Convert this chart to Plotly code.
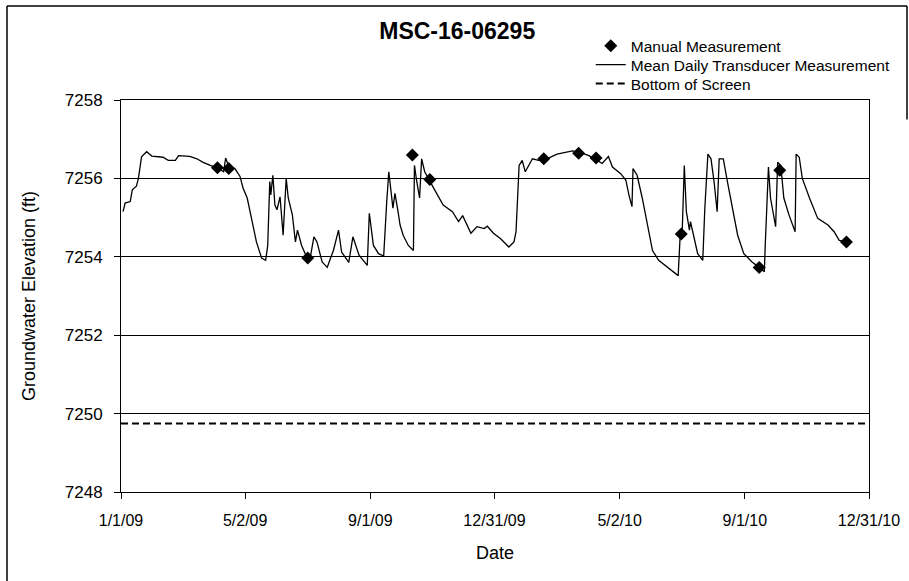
import plotly.graph_objects as go

line_dates = [
    "2009-01-03", "2009-01-05", "2009-01-10", "2009-01-12", "2009-01-16", "2009-01-18",
    "2009-01-21", "2009-01-26", "2009-01-31", "2009-02-11", "2009-02-16", "2009-02-23",
    "2009-02-26", "2009-03-09", "2009-03-16", "2009-03-22", "2009-03-29", "2009-04-04",
    "2009-04-11", "2009-04-13", "2009-04-16", "2009-04-22", "2009-04-27", "2009-04-30",
    "2009-05-04", "2009-05-09", "2009-05-13", "2009-05-18", "2009-05-22", "2009-05-24",
    "2009-05-26", "2009-05-27", "2009-05-29", "2009-05-31", "2009-06-02", "2009-06-05",
    "2009-06-08", "2009-06-11", "2009-06-13", "2009-06-17", "2009-06-20", "2009-06-22",
    "2009-06-26", "2009-07-01", "2009-07-04", "2009-07-08", "2009-07-11", "2009-07-16",
    "2009-07-21", "2009-07-24", "2009-07-27", "2009-08-01", "2009-08-04", "2009-08-11",
    "2009-08-15", "2009-08-21", "2009-08-29", "2009-08-31", "2009-09-04", "2009-09-09",
    "2009-09-14", "2009-09-17", "2009-09-19", "2009-09-23", "2009-09-25", "2009-09-28",
    "2009-09-30", "2009-10-03", "2009-10-08", "2009-10-13", "2009-10-14", "2009-10-16",
    "2009-10-19", "2009-10-21", "2009-10-24", "2009-11-02", "2009-11-11", "2009-11-20",
    "2009-11-26", "2009-11-30", "2009-12-08", "2009-12-14", "2009-12-21", "2009-12-24",
    "2009-12-30", "2010-01-06", "2010-01-14", "2010-01-19", "2010-01-21", "2010-01-24",
    "2010-01-27", "2010-01-30", "2010-02-06", "2010-02-12", "2010-02-20", "2010-03-02",
    "2010-03-09", "2010-03-17", "2010-03-25", "2010-04-02", "2010-04-10", "2010-04-15",
    "2010-04-21", "2010-04-25", "2010-05-03", "2010-05-08", "2010-05-11", "2010-05-14",
    "2010-05-15", "2010-05-19", "2010-05-24", "2010-05-29", "2010-06-03", "2010-06-09",
    "2010-06-17", "2010-06-28", "2010-06-30", "2010-07-02", "2010-07-04", "2010-07-06",
    "2010-07-09", "2010-07-10", "2010-07-13", "2010-07-17", "2010-07-22", "2010-07-24",
    "2010-07-27", "2010-07-30", "2010-08-02", "2010-08-05", "2010-08-07", "2010-08-11",
    "2010-08-15", "2010-08-20", "2010-08-25", "2010-08-31", "2010-09-08", "2010-09-15",
    "2010-09-20", "2010-09-21", "2010-09-24", "2010-09-26", "2010-10-01", "2010-10-03",
    "2010-10-06", "2010-10-09", "2010-10-14", "2010-10-20", "2010-10-21", "2010-10-24",
    "2010-10-27", "2010-11-03", "2010-11-11", "2010-11-21", "2010-11-27", "2010-12-02",
    "2010-12-09",
]
line_values = [
    7255.15, 7255.37, 7255.41, 7255.71, 7255.80, 7256.00,
    7256.55, 7256.68, 7256.57, 7256.54, 7256.46, 7256.46,
    7256.58, 7256.56, 7256.50, 7256.41, 7256.33, 7256.28,
    7256.17, 7256.52, 7256.30, 7256.25, 7256.05, 7255.75,
    7255.50, 7254.90, 7254.38, 7253.97, 7253.91, 7254.29,
    7255.92, 7255.58, 7256.08, 7255.32, 7255.20, 7255.53,
    7254.55, 7256.00, 7255.50, 7255.07, 7254.38, 7254.68,
    7254.29, 7253.99, 7253.91, 7254.51, 7254.38, 7253.87,
    7253.73, 7253.95, 7254.16, 7254.68, 7254.12, 7253.86,
    7254.51, 7254.04, 7253.78, 7255.11, 7254.29, 7254.08,
    7254.02, 7255.41, 7256.17, 7255.24, 7255.62, 7255.15,
    7254.81, 7254.55, 7254.29, 7254.16, 7256.33, 7255.96,
    7255.50, 7256.50, 7256.17, 7255.74, 7255.32, 7255.15,
    7254.90, 7255.05, 7254.60, 7254.77, 7254.72, 7254.78,
    7254.60, 7254.46, 7254.25, 7254.38, 7254.64, 7256.33,
    7256.46, 7256.17, 7256.50, 7256.46, 7256.50, 7256.62,
    7256.66, 7256.70, 7256.66, 7256.58, 7256.46, 7256.38,
    7256.56, 7256.29, 7256.12, 7255.96, 7255.58, 7255.28,
    7256.25, 7256.08, 7255.50, 7254.81, 7254.16, 7253.91,
    7253.75, 7253.52, 7254.55, 7254.68, 7256.33, 7255.15,
    7254.68, 7254.90, 7254.55, 7254.08, 7253.91, 7255.24,
    7256.62, 7256.50, 7255.92, 7255.15, 7256.50, 7256.50,
    7255.92, 7255.24, 7254.55, 7254.08, 7253.87, 7253.73,
    7253.62, 7254.38, 7256.29, 7255.50, 7254.77, 7256.41,
    7256.33, 7255.50, 7255.07, 7254.64, 7256.62, 7256.54,
    7256.00, 7255.50, 7254.98, 7254.81, 7254.64, 7254.42,
    7254.38,
]

# Manual measurements
manual_dates = [
    "2009-04-05", "2009-04-16", "2009-07-02", "2009-10-12", "2009-10-29",
    "2010-02-17", "2010-03-23", "2010-04-09", "2010-07-01", "2010-09-15",
    "2010-10-05", "2010-12-09",
]
manual_values = [
    7256.27, 7256.25, 7253.97, 7256.60, 7255.97,
    7256.50, 7256.64, 7256.52, 7254.58, 7253.73,
    7256.21, 7254.38,
]

# Bottom of screen
screen_dates = ["2009-01-01", "2010-12-31"]
screen_values = [7249.75, 7249.75]

# Axis ticks
x_tickvals = ["2009-01-01", "2009-05-02", "2009-09-01", "2009-12-31",
              "2010-05-02", "2010-09-01", "2010-12-31"]
x_ticktext = ["1/1/09", "5/2/09", "9/1/09", "12/31/09", "5/2/10", "9/1/10", "12/31/10"]
y_tickvals = [7248, 7250, 7252, 7254, 7256, 7258]

FONT = "Liberation Sans, Arial, sans-serif"

fig = go.Figure()
fig.add_trace(go.Scatter(
    x=manual_dates, y=manual_values, mode="markers", name="Manual Measurement",
    marker=dict(symbol="diamond", size=10, color="black"), legend="legend",
))
fig.add_trace(go.Scatter(
    x=line_dates, y=line_values, mode="lines", name="Mean Daily Transducer Measurement",
    line=dict(color="black", width=1.3), legend="legend2",
))
fig.add_trace(go.Scatter(
    x=screen_dates, y=screen_values, mode="lines", name="Bottom of Screen",
    line=dict(color="black", width=2, dash="7px,4px"), legend="legend3",
))

leg_common = dict(x=0.628, xanchor="left", yanchor="top",
                  bgcolor="rgba(0,0,0,0)", borderwidth=0,
                  font=dict(size=15.5, family=FONT))

fig.update_layout(
    width=909, height=581,
    margin=dict(l=121, r=40, t=100, b=88.5, autoexpand=False),
    paper_bgcolor="white", plot_bgcolor="white",
    font=dict(family=FONT, color="black", size=16),
    title=dict(text="<b>MSC-16-06295</b>", x=0.503, xanchor="center",
               y=1 - 31 / 581, yanchor="middle", font=dict(size=23, family=FONT)),
    showlegend=True,
    legend=dict(y=1.1809, **leg_common),
    legend2=dict(y=1.1325, **leg_common),
    legend3=dict(y=1.0841, **leg_common),
    xaxis=dict(
        type="date", range=["2009-01-01", "2010-12-31"],
        tickvals=x_tickvals, ticktext=x_ticktext,
        showgrid=False, zeroline=False,
        showline=True, linecolor="black", linewidth=1, mirror=True,
        ticks="outside", ticklen=6, tickcolor="black", tickwidth=1,
        tickfont=dict(size=16), ticklabelstandoff=8,
        title=dict(text="Date", font=dict(size=18), standoff=18),
        automargin=False,
    ),
    yaxis=dict(
        range=[7248, 7258], tickvals=y_tickvals,
        showgrid=True, gridcolor="black", gridwidth=1, zeroline=False,
        showline=True, linecolor="black", linewidth=1, mirror=True,
        ticks="outside", ticklen=6, tickcolor="black", tickwidth=1,
        tickfont=dict(size=17), ticklabelstandoff=8,
        title=dict(text="Groundwater Elevation (ft)", font=dict(size=18), standoff=24),
        automargin=False,
    ),
    shapes=[
        dict(type="line", xref="paper", yref="paper",
             x0=-0.1524, x1=-0.1524, y0=1.2395, y1=-0.26,
             line=dict(color="black", width=1.5)),
        dict(type="line", xref="paper", yref="paper",
             x0=-0.1524, x1=1.0508, y0=1.2395, y1=1.2395,
             line=dict(color="black", width=1.5)),
        dict(type="line", xref="paper", yref="paper",
             x0=1.0508, x1=1.0508, y0=1.2395, y1=0.95,
             line=dict(color="black", width=1.5)),
    ],
)

fig.write_html("out.html",
               config={"displayModeBar": False},
               post_script="document.body.style.margin='0';document.body.style.overflow='hidden';")
